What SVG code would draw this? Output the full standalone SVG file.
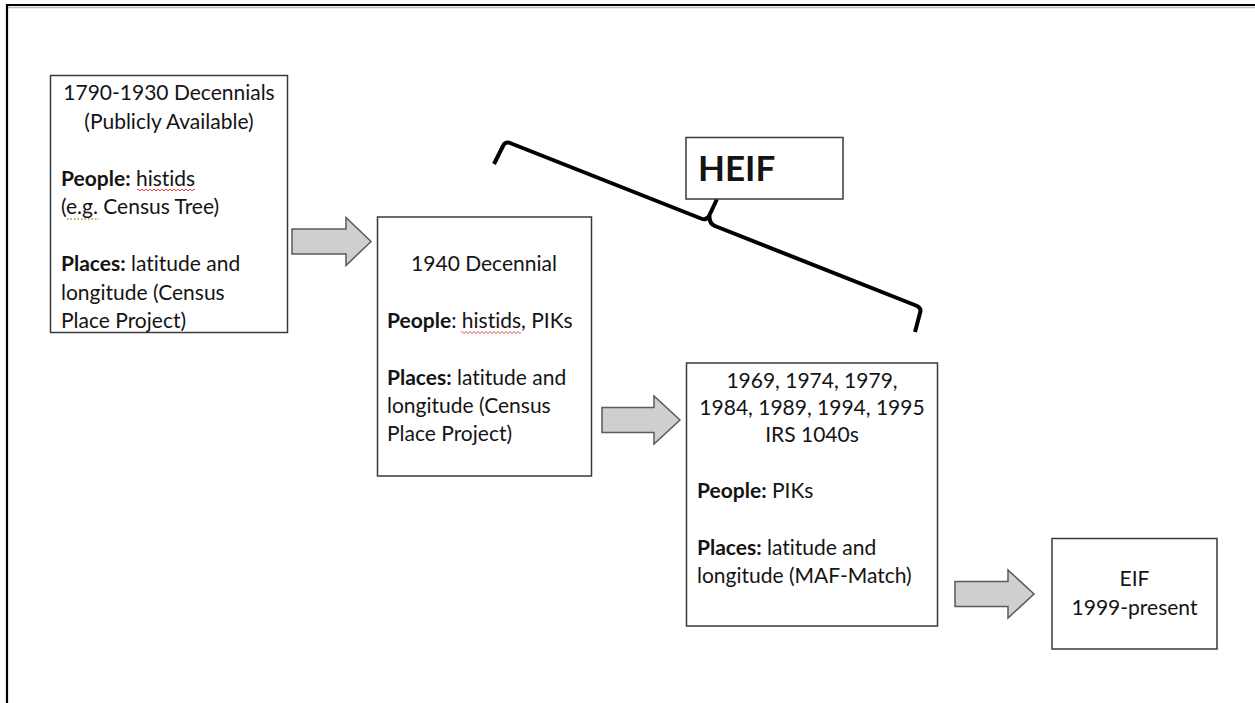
<svg xmlns="http://www.w3.org/2000/svg" width="1255" height="703" viewBox="0 0 1255 703">
<style>
.box{fill:#ffffff;stroke:#3a3a3a;stroke-width:1.5}
.t{font-family:Lato,"Open Sans",sans-serif;font-size:21px;fill:#141414;font-variant-ligatures:none}
.c{text-anchor:middle}
.b{font-weight:bold}
.arrow{fill:#d0cece;stroke:#5a5a5a;stroke-width:1.5;stroke-linejoin:miter}
.brace{fill:none;stroke:#000;stroke-width:4;stroke-linejoin:round;stroke-linecap:butt}
.sq{fill:none;stroke:#e04040;stroke-width:1}
.dot{fill:none;stroke:#b08a30;stroke-width:1.5;stroke-dasharray:1.5 2}
</style>
<rect x="0" y="0" width="1255" height="703" fill="#ffffff"/>
<g id="frame">
<line x1="6" y1="7.5" x2="1255" y2="7.5" stroke="#bdbdbd" stroke-width="1.5"/>
<line x1="6" y1="5" x2="1255" y2="5" stroke="#000" stroke-width="2.2"/>
<line x1="7" y1="4" x2="7" y2="703" stroke="#000" stroke-width="2.2"/>
</g>
<g id="connectors">
<path class="arrow" d="M292,229 H346 V217.5 L371,241.5 L346,265.5 V254 H292 Z"/>
<path class="arrow" d="M602,407.5 H654 V396 L680,420 L654,444 V432.5 H602 Z"/>
<path class="arrow" d="M955,581.5 H1008 V570 L1034,594 L1008,618 V606.5 H955 Z"/>
<path class="brace" d="M494,164 L503,146 Q505,141 510,143 L701,218.5 Q707,221 709.5,215 L717,199 M709.5,215 Q709,224 715,226 L916,305.5 Q922,308 920,313 L915,332"/>
</g>
<g id="node-1790">
<rect class="box" x="50.5" y="75.5" width="237" height="257"/>
<text class="t c" x="169" y="100">1790-1930 Decennials</text>
<text class="t c" x="169" y="128.5">(Publicly Available)</text>
<text class="t" x="61" y="185.5"><tspan class="b">People:</tspan> histids</text>
<path class="sq" d="M137,190 q1,-2 2,0 t2,0 t2,0 t2,0 t2,0 t2,0 t2,0 t2,0 t2,0 t2,0 t2,0 t2,0 t2,0 t2,0 t2,0 t2,0 t2,0 t2,0 t2,0 t2,0 t2,0 t2,0 t2,0 t2,0 t2,0 t2,0 t2,0 t2,0 t2,0"/>
<text class="t" x="61" y="214">(e.g. Census Tree)</text>
<path class="dot" d="M67,219 H99"/>
<text class="t" x="61" y="271"><tspan class="b">Places:</tspan> latitude and</text>
<text class="t" x="61" y="299.5">longitude (Census</text>
<text class="t" x="61" y="328">Place Project)</text>
</g>
<g id="node-1940">
<rect class="box" x="377.5" y="217" width="214" height="259"/>
<text class="t c" x="484" y="271">1940 Decennial</text>
<text class="t" x="387" y="328"><tspan class="b">People</tspan>: histids, PIKs</text>
<path class="sq" d="M461,332.5 q1,-2 2,0 t2,0 t2,0 t2,0 t2,0 t2,0 t2,0 t2,0 t2,0 t2,0 t2,0 t2,0 t2,0 t2,0 t2,0 t2,0 t2,0 t2,0 t2,0 t2,0 t2,0 t2,0 t2,0 t2,0 t2,0 t2,0 t2,0 t2,0 t2,0 t2,0"/>
<text class="t" x="387" y="385"><tspan class="b">Places:</tspan> latitude and</text>
<text class="t" x="387" y="413">longitude (Census</text>
<text class="t" x="387" y="441">Place Project)</text>
</g>
<g id="node-irs">
<rect class="box" x="686.5" y="363" width="251" height="263"/>
<text class="t c" x="812" y="388">1969, 1974, 1979,</text>
<text class="t c" x="812" y="415">1984, 1989, 1994, 1995</text>
<text class="t c" x="812" y="442">IRS 1040s</text>
<text class="t" x="697" y="498"><tspan class="b">People:</tspan> PIKs</text>
<text class="t" x="697" y="555"><tspan class="b">Places:</tspan> latitude and</text>
<text class="t" x="697" y="583">longitude (MAF-Match)</text>
</g>
<g id="node-eif">
<rect class="box" x="1052" y="538.5" width="165" height="110.5"/>
<text class="t c" x="1134.5" y="586">EIF</text>
<text class="t c" x="1134.5" y="615">1999-present</text>
</g>
<g id="node-heif">
<rect class="box" x="686" y="137.5" width="157" height="61.5"/>
<text class="t b" x="698" y="181" style="font-size:35px">HEIF</text>
</g>
</svg>
